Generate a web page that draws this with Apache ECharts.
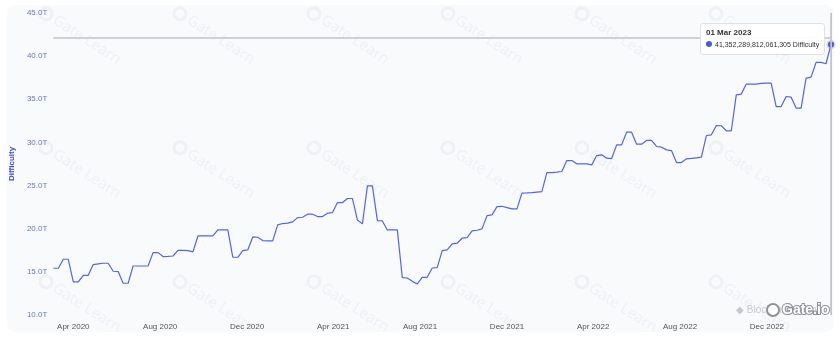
<!DOCTYPE html>
<html>
<head>
<meta charset="utf-8">
<title>Difficulty</title>
<script src="https://cdn.jsdelivr.net/npm/echarts@6/dist/echarts.min.js"></script>
<style>
html, body { margin: 0; padding: 0; background: #fff; }
#chart { width: 840px; height: 351px; }
</style>
</head>
<body>
<div id="chart"></div>
<script>
// weekly samples, first on 04 Mar 2020, last on 01 Mar 2023 (values in T)
const firstWeek = [2020, 2, 4];
const difficulty = [
    15.42, 15.42, 16.46, 16.46, 13.83, 13.83, 14.60, 14.60, 15.84, 15.92,
    16.00, 16.00, 15.07, 15.03, 13.68, 13.68, 15.68, 15.68, 15.68, 15.68,
    17.23, 17.23, 16.77, 16.80, 16.84, 17.50, 17.48, 17.46, 17.31, 19.16,
    19.16, 19.16, 19.16, 19.86, 19.86, 19.86, 16.69, 16.69, 17.46, 17.54,
    19.05, 19.01, 18.62, 18.60, 18.58, 20.44, 20.60, 20.64, 20.79, 21.29,
    21.33, 21.68, 21.68, 21.41, 21.41, 21.80, 21.87, 23.03, 23.03, 23.50,
    23.50, 21.00, 20.56, 24.97, 24.97, 20.94, 20.90, 19.86, 19.86, 19.86,
    14.33, 14.29, 13.90, 13.60, 14.37, 14.37, 15.45, 15.49, 17.46, 17.54,
    18.24, 18.32, 18.90, 18.97, 19.74, 19.82, 19.98, 21.52, 21.60, 22.56,
    22.60, 22.45, 22.30, 22.30, 24.12, 24.15, 24.19, 24.25, 24.30, 26.50,
    26.50, 26.55, 26.63, 27.90, 27.90, 27.52, 27.52, 27.52, 27.40, 28.48,
    28.56, 28.18, 28.13, 29.72, 29.72, 31.19, 31.19, 29.80, 29.80, 30.23,
    30.23, 29.53, 29.45, 29.14, 29.06, 27.67, 27.67, 28.10, 28.15, 28.22,
    28.29, 30.80, 30.88, 31.96, 31.93, 31.35, 31.35, 35.52, 35.60, 36.76,
    36.76, 36.76, 36.85, 36.88, 36.88, 34.16, 34.16, 35.32, 35.25, 33.98,
    33.98, 37.46, 37.57, 39.27, 39.27, 39.12, 41.35
];
// month labels on the x axis
const monthTicks = [
    [2020, 3], [2020, 7], [2020, 11],
    [2021, 3], [2021, 7], [2021, 11],
    [2022, 3], [2022, 7], [2022, 11]
];
const monthNames = ['Jan', 'Feb', 'Mar', 'Apr', 'May', 'Jun', 'Jul', 'Aug', 'Sep', 'Oct', 'Nov', 'Dec'];
// exact figure shown in the hover box
const exactValues = { '2023-03-01': '41,352,289,812,061,305' };

const DAY = 86400000;
const t0 = Date.UTC(firstWeek[0], firstWeek[1], firstWeek[2]);
const weeks = difficulty.map((v, i) => t0 + i * 7 * DAY);
const seriesData = difficulty.map((v, i) => [weeks[i], v]);
const tickValues = monthTicks.map(m => Date.UTC(m[0], m[1], 1));
const hoverWeek = weeks[weeks.length - 1];

const lineColor = '#4c5dd0';
const font = '"Liberation Sans", Arial, sans-serif';

function pad(n) { return n < 10 ? '0' + n : '' + n; }
function isoDay(ts) {
    const d = new Date(ts);
    return d.getUTCFullYear() + '-' + pad(d.getUTCMonth() + 1) + '-' + pad(d.getUTCDate());
}

// faint "Gate Learn" watermark tiles
const wmCols = [40, 174, 308, 442, 576, 710];
const wmRows = [10, 144, 278];
const watermarks = [];
wmRows.forEach(y => {
    wmCols.forEach(x => {
        watermarks.push({
            type: 'group',
            x: x, y: y,
            rotation: -0.57,
            z: 1,
            silent: true,
            children: [
                { type: 'circle', shape: { cx: 7, cy: 0, r: 6 }, style: { fill: 'none', stroke: '#f0f1f5', lineWidth: 3 } },
                { type: 'text', x: 17, y: 0, style: { text: 'Gate Learn', font: '15px "Noto Sans", sans-serif', fill: '#f0f1f5', verticalAlign: 'middle' } }
            ]
        });
    });
});

let myChart = echarts.init(document.getElementById('chart'));

let option = {
    animation: false,
    backgroundColor: '#ffffff',
    textStyle: { fontFamily: font },
    grid: { left: 51, right: 9, top: 13, bottom: 36 },
    graphic: [
        { type: 'rect', z: 0, silent: true, shape: { x: 7, y: 5, width: 827, height: 327, r: 8 }, style: { fill: '#f9fafc' } }
    ].concat(watermarks).concat([
        { type: 'text', z: 1, silent: true, x: 736, y: 310, style: { text: '\u25C6 Blockchain.com', font: '10px ' + font, fill: '#c6c8d0', verticalAlign: 'middle' } },
        { type: 'circle', z: 2, silent: true, shape: { cx: 773, cy: 310, r: 6 }, style: { fill: '#fff', stroke: '#8f919b', lineWidth: 2 } },
        { type: 'text', z: 2, silent: true, x: 782, y: 310, style: { text: 'Gate.io', font: 'bold 14px ' + font, fill: '#ffffff', stroke: '#8f919b', lineWidth: 2, verticalAlign: 'middle' } }
    ]),
    tooltip: {
        trigger: 'axis',
        alwaysShowContent: true,
        transitionDuration: 0,
        backgroundColor: 'rgba(255,255,255,0.96)',
        borderColor: '#e2e2e6',
        borderWidth: 1,
        padding: [3, 5],
        extraCssText: 'box-shadow:none;border-radius:3px;',
        position: function () { return [700, 23]; },
        axisPointer: {
            type: 'line',
            lineStyle: { color: '#c4c4c8', width: 1, type: 'solid' },
            label: { show: false }
        },
        formatter: function (params) {
            const p = params[0];
            const d = new Date(p.value[0]);
            const head = pad(d.getUTCDate()) + ' ' + monthNames[d.getUTCMonth()] + ' ' + d.getUTCFullYear();
            const txt = exactValues[isoDay(p.value[0])] || p.value[1].toFixed(2) + 'T';
            return '<div style="font-family:Liberation Sans,Arial;color:#333;">' +
                '<div style="font-weight:bold;font-size:8px;line-height:12px;">' + head + '</div>' +
                '<div style="font-size:7px;line-height:12px;white-space:nowrap;">' +
                '<span style="display:inline-block;width:6px;height:6px;border-radius:3px;background:' + lineColor + ';margin-right:3px;vertical-align:0px;"></span>' +
                txt + ' Difficulty</div></div>';
        }
    },
    xAxis: {
        type: 'value',
        min: weeks[0],
        max: weeks[weeks.length - 1],
        axisLine: { show: false },
        axisTick: { show: false, customValues: tickValues },
        splitLine: { show: false },
        axisLabel: {
            customValues: tickValues,
            color: '#555555',
            fontSize: 8,
            margin: 8,
            formatter: function (v) {
                const d = new Date(v);
                return monthNames[d.getUTCMonth()] + ' ' + d.getUTCFullYear();
            }
        },
        axisPointer: {
            show: true,
            type: 'line',
            snap: true,
            lineStyle: { color: '#c4c4c8', width: 1, type: 'solid' },
            label: { show: false }
        }
    },
    yAxis: {
        type: 'value',
        min: 10,
        max: 45,
        interval: 5,
        name: 'Difficulty',
        nameLocation: 'middle',
        nameGap: 34,
        nameTextStyle: { color: '#3f50c6', fontSize: 8, fontWeight: 'bold' },
        axisLine: { show: false },
        axisTick: { show: false },
        splitLine: { show: false },
        axisLabel: {
            color: '#6b77c8',
            fontSize: 8,
            margin: 6,
            formatter: v => v.toFixed(1) + 'T'
        },
        axisPointer: {
            show: true,
            type: 'line',
            snap: false,
            triggerTooltip: false,
            lineStyle: { color: '#d0d0d4', width: 2, type: 'solid' },
            label: { show: false }
        }
    },
    series: [
        {
            name: 'Difficulty',
            type: 'line',
            data: seriesData,
            showSymbol: false,
            clip: false,
            symbol: 'circle',
            symbolSize: 6,
            z: 3,
            lineStyle: { color: lineColor, width: 1.2 },
            itemStyle: { color: lineColor, borderColor: 'rgba(76,93,208,0.25)', borderWidth: 3 },
            emphasis: { scale: false, lineStyle: { width: 1.2 } },
            // vertical hover guide at the highlighted week
            markLine: {
                silent: true,
                symbol: 'none',
                label: { show: false },
                lineStyle: { color: '#c2c2c7', width: 1.5, type: 'solid' },
                data: [[{ coord: [hoverWeek, 10] }, { coord: [hoverWeek, 45] }]]
            }
        }
    ]
};

if (option && typeof option === 'object') {
    myChart.setOption(option);
}
myChart.dispatchAction({ type: 'showTip', x: 830, y: 38 });
</script>
</body>
</html>
